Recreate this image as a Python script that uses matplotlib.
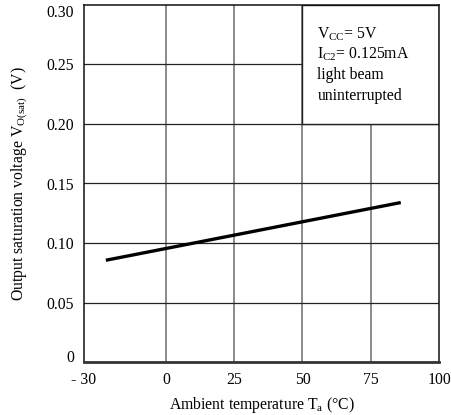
import numpy as np
import matplotlib
matplotlib.use("Agg")
import matplotlib.pyplot as plt
from matplotlib.patches import Rectangle

# data
temp = [-22, 86]
vsat = [0.0855, 0.134]
x_ticks = [-30, 0, 25, 50, 75, 100]
x_labels = ["- 30", "0", "25", "50", "75", "100"]
y_ticks = [0, 0.05, 0.10, 0.15, 0.20, 0.25, 0.30]
y_labels = ["0", "0.05", "0.10", "0.15", "0.20", "0.25", "0.30"]
notes = [r"V$_{\mathregular{CC}}$= 5V", r"I$_{\mathregular{C2}}$= 0.125mA",
         "light beam", "uninterrupted"]

plt.rcParams['font.family'] = ['Liberation Serif', 'DejaVu Serif']
plt.rcParams['mathtext.fontset'] = 'custom'
plt.rcParams['mathtext.rm'] = 'Liberation Serif'

FS = 11.3
fig = plt.figure(figsize=(4.51, 4.15), dpi=100)
W, H = 451, 415
ax = fig.add_axes([84 / W, 1 - 362 / H, (439 - 84) / W, (362 - 5) / H])

ax.set_xlim(-30, 100)
ax.set_ylim(0, 0.30)

# grid
for xv in x_ticks[1:-1]:
    ax.axvline(xv, color='#777777', lw=1.2, zorder=1)
for yv in y_ticks[1:-1]:
    ax.axhline(yv, color='#222222', lw=0.9, zorder=1)

# condition box
ax.add_patch(Rectangle((50, 0.20), 50, 0.10, facecolor='white',
                       edgecolor='#222222', lw=1.0, zorder=2))
for i, t in enumerate(notes):
    ax.text(55.5, 0.2755 - i * 0.0172, t, fontsize=FS, ha='left',
            va='center', zorder=3)

ax.plot(temp, vsat, color='black', lw=2.4, zorder=4, solid_capstyle='butt')

ax.set_xticks(x_ticks)
ax.set_xticklabels(x_labels, fontsize=FS)
ax.set_yticks(y_ticks)
ax.set_yticklabels(y_labels, fontsize=FS)
ax.tick_params(length=0, pad=7)
ylabs = ax.get_yticklabels()
ylabs[0].set_va('baseline')
ylabs[-1].set_va('top')

for s in ['left', 'top', 'right']:
    ax.spines[s].set_linewidth(1.1)
    ax.spines[s].set_color('#111111')
ax.spines['bottom'].set_linewidth(2.0)
ax.spines['bottom'].set_color('#333333')

ax.set_xlabel(r"Ambient temperature T$_{\mathregular{a}}$ (°C)", fontsize=FS,
              labelpad=5)
ax.set_ylabel(r"Output saturation voltage V$_{\mathregular{O(sat)}}$  (V)",
              fontsize=FS, labelpad=12)

fig.savefig("out.png", dpi=100)
